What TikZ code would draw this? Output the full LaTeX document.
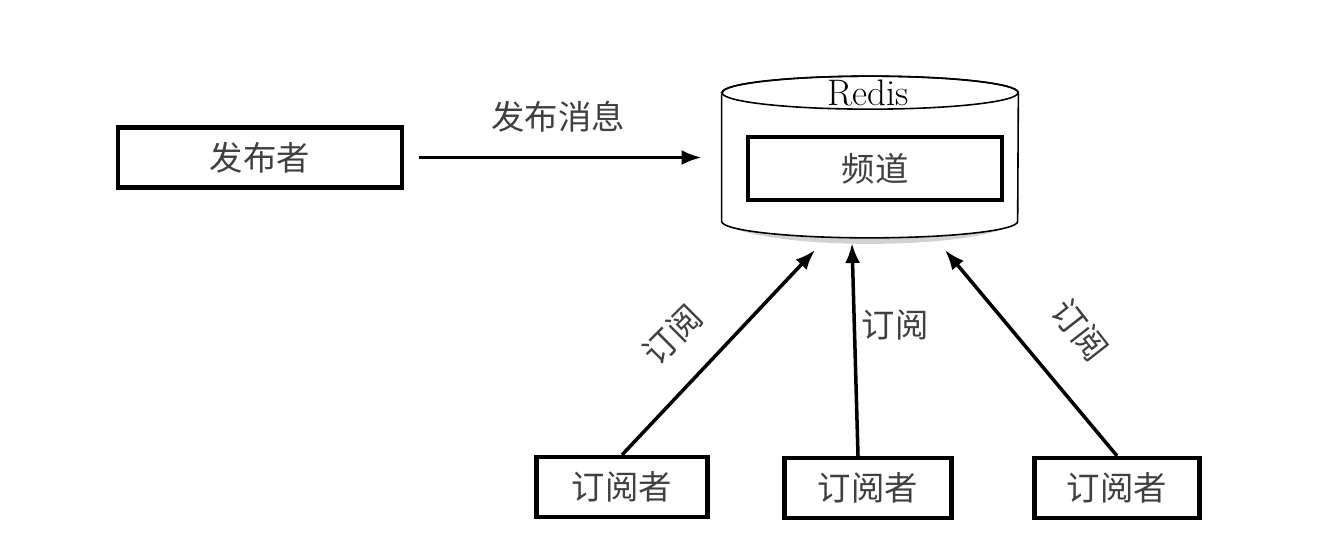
\documentclass[tikz,border=0pt]{standalone}
\usepackage{fontspec}
\newfontfamily\cjk{Noto Sans CJK SC}
\usetikzlibrary{arrows.meta}

\tikzset{
  box/.style = {draw, line width = 2.4pt, minimum height = 1.2cm, font = \cjk\fontsize{19}{22}\selectfont, text = black!75},
  arr/.style = {-{Latex[length = 4mm, width = 3mm]}, line width = 2pt},
  lab/.style = {font = \cjk\fontsize{19}{22}\selectfont, text = black!75}
}

\begin{document}
\begin{tikzpicture}
    \useasboundingbox (0, 0) rectangle (26.8, -11.16);
    \node[box, minimum width = 5.68cm] (publisher) at (5.2, -3.15) {发布者};
    % redis cylinder
    \node[minimum width = 5.92cm, minimum height = 3.22cm] (redis) at (17.4, -3.14) {};
    \fill[black!35, opacity = 0.5] ([yshift = 0.4cm]redis.south west) arc[start angle = 180, end angle = 360, x radius = 2.96, y radius = 0.52] -- cycle;
    \draw[line width = 0.9pt, fill = white] ([yshift = -0.33cm]redis.north west) -- ([yshift = 0.33cm]redis.south west)
      arc[start angle = 180, end angle = 360, x radius = 2.96, y radius = 0.33]
      -- ([yshift = -0.33cm]redis.north east)
      arc[start angle = 0, end angle = 180, x radius = 2.96, y radius = 0.33] -- cycle;
    \draw[line width = 0.9pt] ([yshift = -0.33cm]redis.north) ellipse [x radius = 2.96, y radius = 0.33];
    \node[font = \fontsize{21}{24}\selectfont] (redis label) at (17.36, -1.86) {Redis};
    \node[box, minimum width = 5.08cm, minimum height = 1.26cm] (channel) at (17.5, -3.37) {频道};
    \draw[arr] ([xshift = 0.3cm]publisher.east) -- ([xshift = -0.4cm]publisher.east -| redis.west);
    \node[lab] (publish message) at (11.16, -2.34) {发布消息};
    \node[box, minimum width = 3.42cm] (subscriber a) at (12.44, -9.74) {订阅者};
    \node[box, minimum width = 3.34cm] (subscriber b) at (17.36, -9.76) {订阅者};
    \node[box, minimum width = 3.3cm] (subscriber c) at (22.34, -9.76) {订阅者};
    \coordinate (in a) at (16.3, -5.0);
    \coordinate (in b) at (17.04, -4.86);
    \coordinate (in c) at (18.9, -5.0);
    \draw[arr] (subscriber a.north) -- (in a);
    \draw[arr] ([xshift = -0.2cm]subscriber b.north) -- (in b);
    \draw[arr] (subscriber c.north) -- (in c);
    \node[lab, rotate = 45] (subscribe a) at (13.45, -6.7) {订阅};
    \node[lab] (subscribe b) at (17.9, -6.5) {订阅};
    \node[lab, rotate = -52] (subscribe c) at (21.6, -6.6) {订阅};
  \end{tikzpicture}
\end{document}
